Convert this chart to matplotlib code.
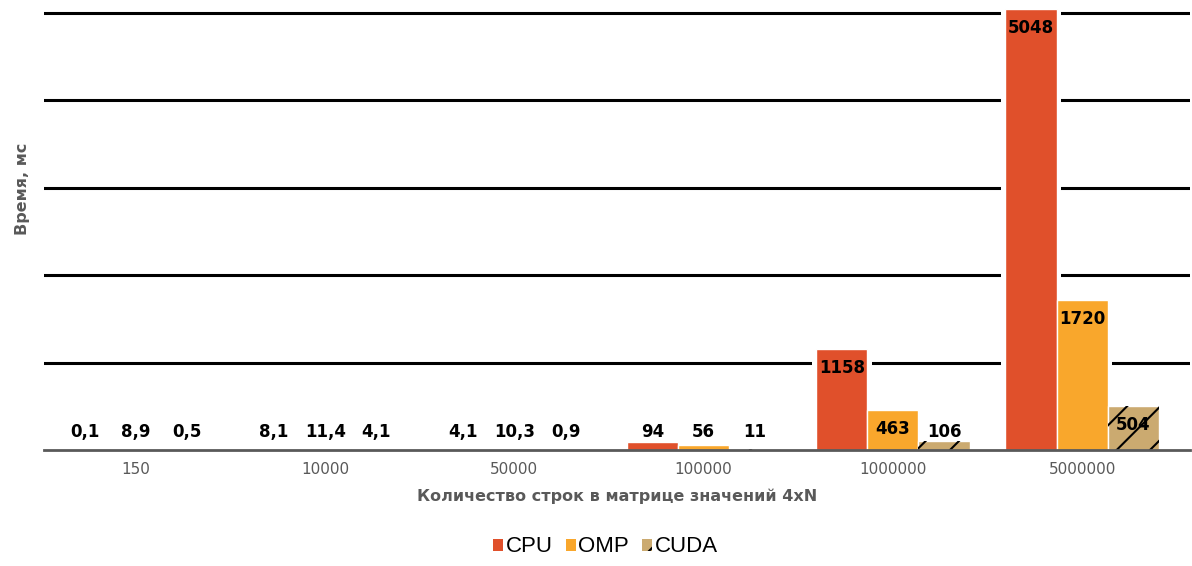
import matplotlib
matplotlib.use("Agg")
import matplotlib.pyplot as plt
import numpy as np
from matplotlib.patches import Patch

categories = ["150", "10000", "50000", "100000", "1000000", "5000000"]
cpu = [0.1, 8.1, 4.1, 94, 1158, 5048]
omp = [8.9, 11.4, 10.3, 56, 463, 1720]
cuda = [0.5, 4.1, 0.9, 11, 106, 504]
series_names = ["CPU", "OMP", "CUDA"]
grid_values = [1000, 2000, 3000, 4000, 5000]

colors = ["#E0502B", "#F9A72C", "#CBAA70"]
hatches = [None, None, "/"]

plt.rcParams["hatch.linewidth"] = 1.5

fig = plt.figure(figsize=(11.92, 5.66), dpi=100)
ax = fig.add_axes([44 / 1192, 1 - 450 / 566, (1190 - 44) / 1192, 450 / 566])
ax.set_xlim(-0.486, 5.57)
ax.set_ylim(0, 5150)

for g in grid_values:
    ax.axhline(g, color="black", lw=2.2, zorder=1)

x = np.arange(len(categories))
width = 0.27
offsets = [-width, 0, width]
data = [cpu, omp, cuda]


def fmt(v):
    s = f"{v:g}"
    return s.replace(".", ",")


for vals, off, col, h in zip(data, offsets, colors, hatches):
    xs = x + off
    # white halo behind bars to interrupt gridlines
    ax.bar(xs, vals, width=width + 0.05, color="white", lw=0, zorder=2)
    ax.bar(xs, vals, width=width, color=col, edgecolor="white", lw=1.0, zorder=3)
    if h:
        ax.bar(xs, vals, width=width, color="none", edgecolor="black", lw=0,
               hatch=h, zorder=4)
    for xi, v in zip(xs, vals):
        ax.annotate(fmt(v), xy=(xi, max(v, 430)), xytext=(0, -14),
                    textcoords="offset points", ha="center", va="center",
                    fontsize=12, fontweight="bold", color="black", zorder=5)

ax.set_xticks(x)
ax.set_xticklabels(categories, fontsize=11, color="#595959")
ax.tick_params(axis="x", length=0, pad=9)
ax.set_yticks([])
for s in ["top", "right", "left"]:
    ax.spines[s].set_visible(False)
ax.spines["bottom"].set_color("#595959")
ax.spines["bottom"].set_linewidth(2)
ax.spines["bottom"].set_zorder(6)

ax.set_xlabel("Количество строк в матрице значений 4xN", fontsize=11.5,
              fontweight="bold", color="#595959", labelpad=8)
ax.set_ylabel("Время, мс", fontsize=11.5, fontweight="bold", color="#595959")
ax.yaxis.set_label_coords(-0.012, 0.58)

handles = [Patch(facecolor=c, edgecolor="black" if h else c, lw=0, hatch=h)
           for c, h in zip(colors, hatches)]
fig.legend(handles, series_names, loc="center", bbox_to_anchor=(0.508, 1 - 547 / 566),
           ncol=3, frameon=False, prop={"family": "Liberation Sans", "size": 16},
           handlelength=0.45, handleheight=0.45, handletextpad=0.1,
           columnspacing=0.6)

fig.savefig("out.png", dpi=100)
